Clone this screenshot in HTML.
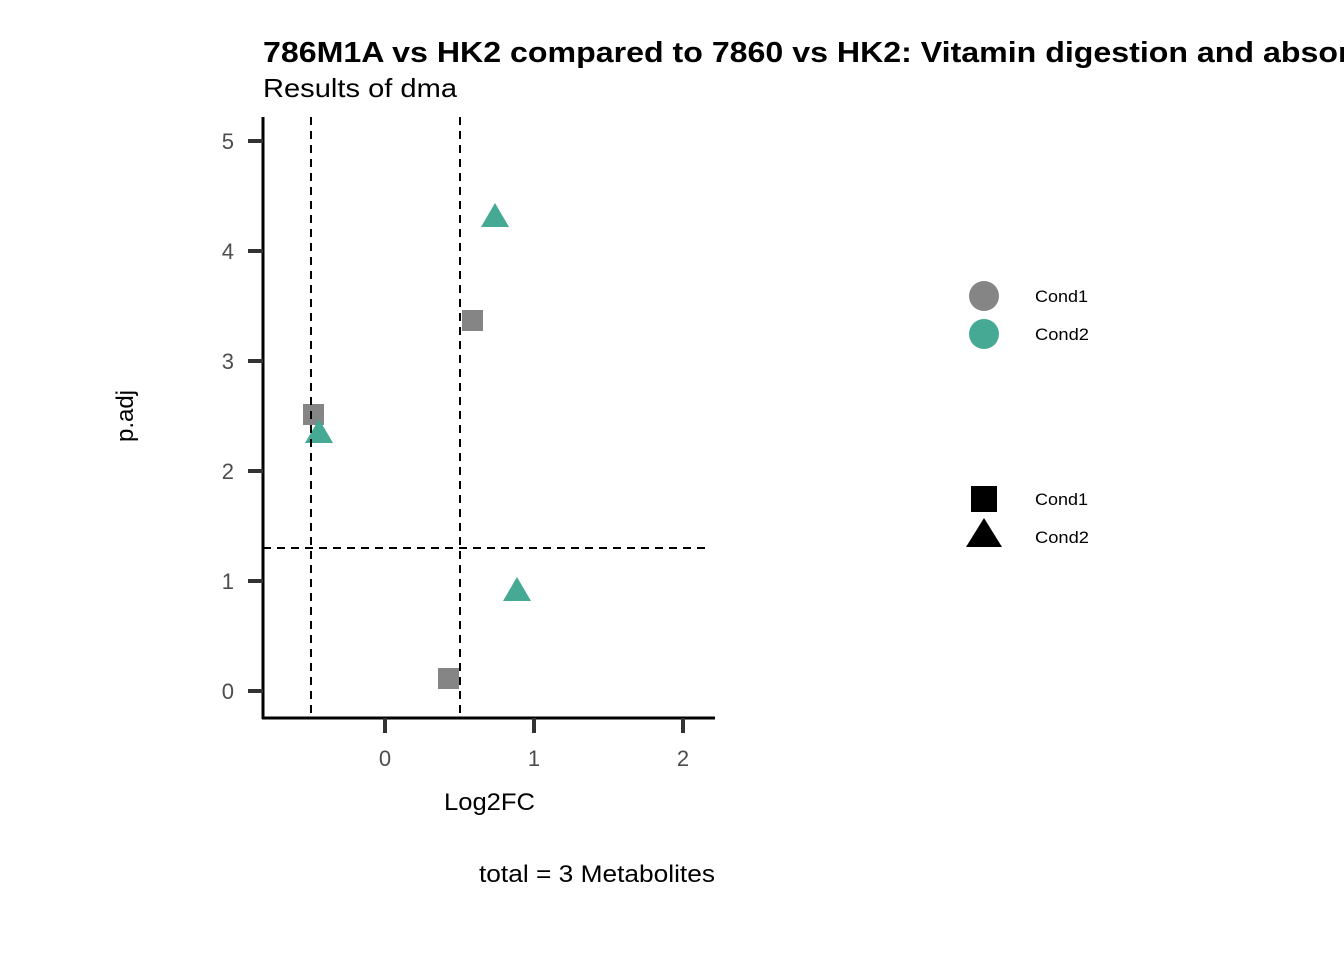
<!DOCTYPE html>
<html><head><meta charset="utf-8"><style>body{margin:0;background:#fff;overflow:hidden}</style></head>
<body>
<svg width="1344" height="960" xmlns="http://www.w3.org/2000/svg" font-family="Liberation Sans, sans-serif">
<rect width="1344" height="960" fill="#fff"/>
<text x="263" y="62" font-size="29" font-weight="bold" textLength="1166" lengthAdjust="spacingAndGlyphs">786M1A vs HK2 compared to 7860 vs HK2: Vitamin digestion and absorption</text>
<text x="263" y="97" font-size="26" textLength="194" lengthAdjust="spacingAndGlyphs">Results of dma</text>
<g fill="#858585">
<rect x="303" y="404" width="21" height="21"/>
<rect x="462" y="310" width="21" height="21"/>
<rect x="438" y="668" width="21" height="21"/>
</g>
<g fill="#45A994">
<polygon points="495,203 481,227 509,227"/>
<polygon points="319,419 305,443 333,443"/>
<polygon points="517,577 503,601 531,601"/>
</g>
<g stroke="#000" stroke-width="2" stroke-dasharray="8,6" fill="none">
<line x1="311" y1="117" x2="311" y2="718"/>
<line x1="460" y1="117" x2="460" y2="718"/>
<line x1="263" y1="548" x2="708" y2="548"/>
</g>
<line x1="263" y1="117" x2="263" y2="719" stroke="#000" stroke-width="3"/>
<line x1="262" y1="718" x2="715" y2="718" stroke="#000" stroke-width="3"/>
<g stroke="#333" stroke-width="4">
<line x1="248" y1="691" x2="263" y2="691"/>
<line x1="248" y1="581" x2="263" y2="581"/>
<line x1="248" y1="471" x2="263" y2="471"/>
<line x1="248" y1="361" x2="263" y2="361"/>
<line x1="248" y1="251" x2="263" y2="251"/>
<line x1="248" y1="141" x2="263" y2="141"/>
<line x1="385" y1="718" x2="385" y2="733"/>
<line x1="534" y1="718" x2="534" y2="733"/>
<line x1="683" y1="718" x2="683" y2="733"/>
</g>
<g font-size="22" fill="#4d4d4d" text-anchor="end">
<text x="234" y="699">0</text><text x="234" y="589">1</text><text x="234" y="479">2</text>
<text x="234" y="369">3</text><text x="234" y="259">4</text><text x="234" y="149">5</text>
</g>
<g font-size="22" fill="#4d4d4d" text-anchor="middle">
<text x="385" y="766">0</text><text x="534" y="766">1</text><text x="683" y="766">2</text>
</g>
<text x="444" y="810" font-size="24" textLength="91" lengthAdjust="spacingAndGlyphs">Log2FC</text>
<text transform="translate(133,442) rotate(-90)" font-size="24" textLength="52" lengthAdjust="spacingAndGlyphs">p.adj</text>
<text x="479" y="882" font-size="24" textLength="236" lengthAdjust="spacingAndGlyphs">total = 3 Metabolites</text>
<circle cx="984" cy="296" r="15" fill="#858585"/>
<circle cx="984" cy="334" r="15" fill="#45A994"/>
<rect x="971" y="486" width="26" height="26" fill="#000"/>
<polygon points="984,518 966,547 1002,547" fill="#000"/>
<g font-size="17">
<text x="1035" y="302" textLength="53" lengthAdjust="spacingAndGlyphs">Cond1</text>
<text x="1035" y="340" textLength="54" lengthAdjust="spacingAndGlyphs">Cond2</text>
<text x="1035" y="505" textLength="53" lengthAdjust="spacingAndGlyphs">Cond1</text>
<text x="1035" y="543" textLength="54" lengthAdjust="spacingAndGlyphs">Cond2</text>
</g>
</svg>
</body></html>
